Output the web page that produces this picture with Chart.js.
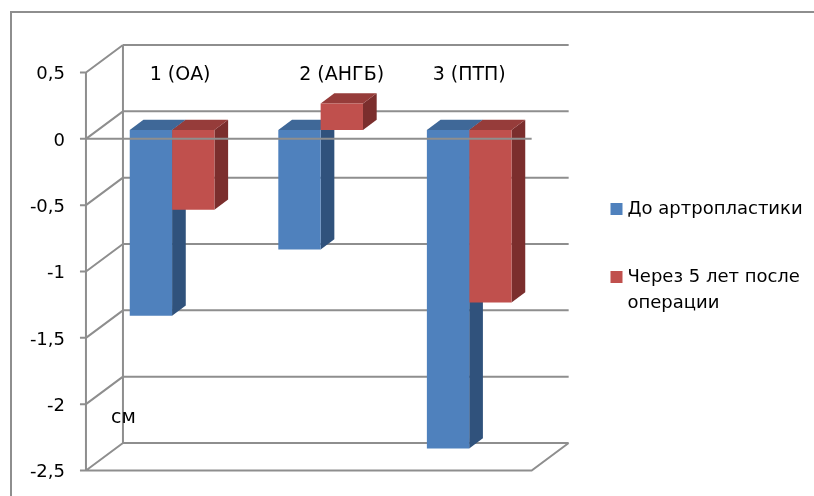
<!DOCTYPE html>
<html>
<head>
<meta charset="utf-8">
<script src="https://cdn.jsdelivr.net/npm/chart.js@4/dist/chart.umd.min.js"></script>
<style>
  html, body { margin: 0; padding: 0; background: #fff; overflow: hidden; }
  #wrap { width: 814px; height: 496px; position: relative; }
</style>
</head>
<body>
<div id="wrap"><canvas id="chart"></canvas></div>
<script>
// Leg-length difference by group, before and 5 years after arthroplasty
const categories = ['1 (ОА)', '2 (АНГБ)', '3 (ПТП)'];
const seriesNames = ['До артропластики', 'Через 5 лет после операции'];
const beforeSurgery = [-1.4, -0.9, -2.4];
const fiveYearsAfter = [-0.6, 0.2, -1.3];
const yMin = -2.5;
const yMax = 0.5;
const yStep = 0.5;
const unitLabel = 'см';

// Look of the pseudo-3D box
const FONT = "'DejaVu Sans', sans-serif";
const FRAME_COLOR = '#8e8e8e';
const DEPTH = { x: 37, y: -27.5 };   // front wall -> back wall shift
const BAR_Z = 0.32;                   // depth of the bars' front faces
const BAR_D = 0.37;                   // depth of the bars themselves
const SHADES = [
  { front: '#4F81BD', top: '#3F6898', side: '#30527C' },
  { front: '#C0504D', top: '#963C3A', side: '#7B2E2D' }
];
const CATEGORY_NUDGE = [8, 21, 0];

function frontEdges(chart) {
  const a = chart.chartArea;
  const dx = -BAR_Z * DEPTH.x, dy = -BAR_Z * DEPTH.y;
  return { L: a.left + dx, R: a.right + dx, dy };
}

const box3d = {
  id: 'box3d',
  beforeDatasetsDraw(chart) {
    const { ctx, scales: { y } } = chart;
    const { L, R, dy } = frontEdges(chart);
    const rows = y.ticks.map(t => y.getPixelForValue(t.value) + dy);
    const top = y.getPixelForValue(yMax) + dy;
    const bottom = y.getPixelForValue(yMin) + dy;
    ctx.save();
    ctx.strokeStyle = FRAME_COLOR;
    ctx.lineWidth = 2;
    ctx.beginPath();
    rows.forEach(py => {
      ctx.moveTo(L + DEPTH.x, py + DEPTH.y);
      ctx.lineTo(R + DEPTH.x, py + DEPTH.y);
      ctx.moveTo(L, py);
      ctx.lineTo(L + DEPTH.x, py + DEPTH.y);
      ctx.moveTo(L - 6, py);
      ctx.lineTo(L, py);
    });
    ctx.moveTo(L + DEPTH.x, top + DEPTH.y);
    ctx.lineTo(L + DEPTH.x, bottom + DEPTH.y);
    ctx.moveTo(L, top);
    ctx.lineTo(L, bottom);
    ctx.moveTo(L, bottom);
    ctx.lineTo(R, bottom);
    ctx.lineTo(R + DEPTH.x, bottom + DEPTH.y);
    ctx.stroke();

    // side and top faces of every bar; the front faces are drawn afterwards by the library
    const ox = BAR_D * DEPTH.x, oy = BAR_D * DEPTH.y;
    chart.data.datasets.forEach((ds, i) => {
      const shade = SHADES[i];
      chart.getDatasetMeta(i).data.forEach(bar => {
        const p = bar.getProps(['x', 'y', 'base', 'width'], true);
        const left = p.x - p.width / 2, right = p.x + p.width / 2;
        const t = Math.min(p.y, p.base), b = Math.max(p.y, p.base);
        ctx.fillStyle = shade.side;
        ctx.beginPath();
        ctx.moveTo(right, t);
        ctx.lineTo(right + ox, t + oy);
        ctx.lineTo(right + ox, b + oy);
        ctx.lineTo(right, b);
        ctx.closePath();
        ctx.fill();
        ctx.fillStyle = shade.top;
        ctx.beginPath();
        ctx.moveTo(left, t);
        ctx.lineTo(right, t);
        ctx.lineTo(right + ox, t + oy);
        ctx.lineTo(left + ox, t + oy);
        ctx.closePath();
        ctx.fill();
      });
    });
    ctx.restore();
  },
  afterDatasetsDraw(chart) {
    const { ctx, chartArea: a, scales: { x, y } } = chart;
    const { L, R, dy } = frontEdges(chart);

    // category axis at zero, in front of the bars
    const zero = y.getPixelForValue(0) + dy;
    ctx.save();
    ctx.strokeStyle = FRAME_COLOR;
    ctx.lineWidth = 2;
    ctx.beginPath();
    ctx.moveTo(L, zero);
    ctx.lineTo(R, zero);
    ctx.stroke();

    // outer chart border (top and left edges)
    ctx.beginPath();
    ctx.moveTo(11, 496);
    ctx.lineTo(11, 12);
    ctx.lineTo(814, 12);
    ctx.stroke();

    // group captions above the box
    ctx.fillStyle = '#000';
    ctx.font = `19px ${FONT}`;
    ctx.textAlign = 'center';
    ctx.textBaseline = 'middle';
    categories.forEach((c, i) => {
      ctx.fillText(c, x.getPixelForValue(i) + CATEGORY_NUDGE[i], 75);
    });

    // unit caption
    ctx.textAlign = 'left';
    ctx.fillText(unitLabel, L + 25, y.getPixelForValue(-2) + dy + 14);

    // legend
    ctx.font = `18px ${FONT}`;
    const lx = a.right + 67;
    const rowsY = [209, 277];
    chart.data.datasets.forEach((ds, i) => {
      const words = ds.label.split(' ');
      const lines = [];
      let line = '';
      words.forEach(w => {
        const test = line ? line + ' ' + w : w;
        if (line && ctx.measureText(test).width > 185) { lines.push(line); line = w; }
        else line = test;
      });
      lines.push(line);
      ctx.fillStyle = ds.backgroundColor;
      ctx.fillRect(lx, rowsY[i] - 6, 12, 12);
      ctx.fillStyle = '#000';
      lines.forEach((ln, k) => ctx.fillText(ln, lx + 17, rowsY[i] + k * 26));
    });
    ctx.restore();
  }
};

new Chart(document.getElementById('chart'), {
  type: 'bar',
  data: {
    labels: categories,
    datasets: [
      { label: seriesNames[0], data: beforeSurgery, backgroundColor: SHADES[0].front },
      { label: seriesNames[1], data: fiveYearsAfter, backgroundColor: SHADES[1].front }
    ]
  },
  options: {
    responsive: true,
    maintainAspectRatio: false,
    animation: false,
    layout: { padding: { left: 0, top: 63.7, right: 270.5, bottom: 34.3 } },
    datasets: { bar: { categoryPercentage: 0.57, barPercentage: 1, borderWidth: 0 } },
    plugins: { legend: { display: false }, tooltip: { enabled: false } },
    scales: {
      x: { display: false },
      y: {
        min: yMin,
        max: yMax,
        afterFit(s) { s.width = 97.8; s.paddingTop = 0; s.paddingBottom = 0; },
        grid: { display: false, drawTicks: false },
        border: { display: false },
        ticks: {
          stepSize: yStep,
          padding: 32.8,
          labelOffset: 11,
          color: '#000',
          font: { family: FONT, size: 18 },
          callback: v => String(v).replace('.', ',')
        }
      }
    }
  },
  plugins: [box3d]
});
</script>
</body>
</html>
